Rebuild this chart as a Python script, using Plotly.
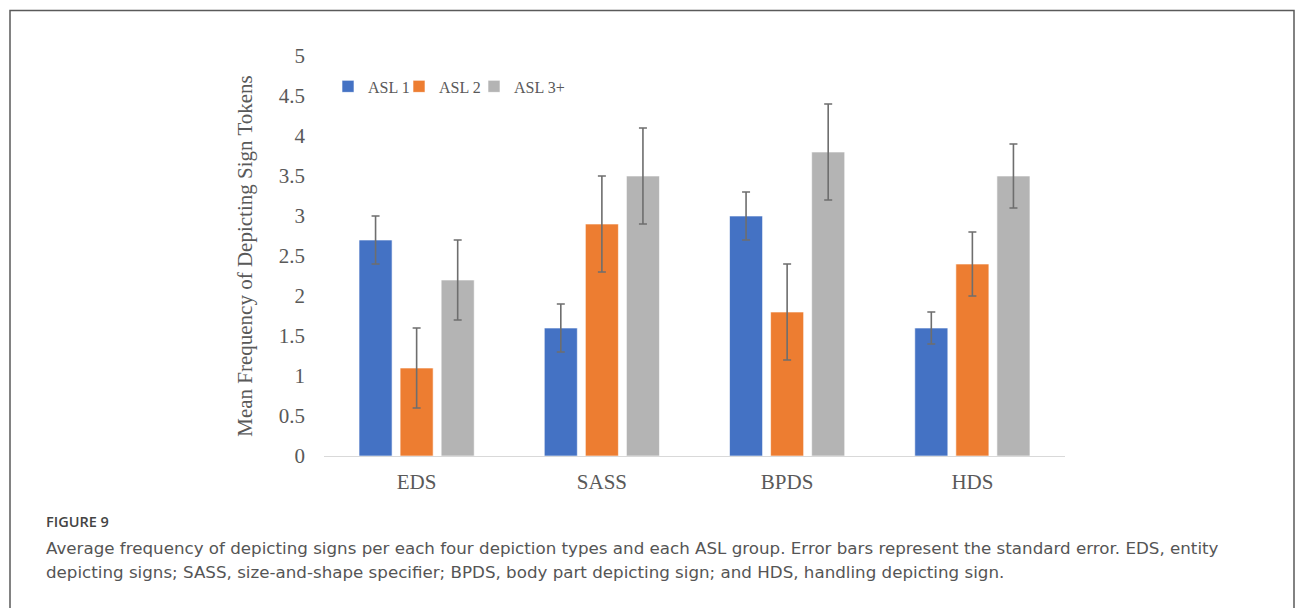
import plotly.graph_objects as go

categories = ["EDS", "SASS", "BPDS", "HDS"]
series_names = ["ASL 1", "ASL 2", "ASL 3+"]
asl1 = [2.7, 1.6, 3.0, 1.6]
asl2 = [1.1, 2.9, 1.8, 2.4]
asl3 = [2.2, 3.5, 3.8, 3.5]
asl1_err = [0.3, 0.3, 0.3, 0.2]
asl2_err = [0.5, 0.6, 0.6, 0.4]
asl3_err = [0.5, 0.6, 0.6, 0.4]
y_ticks = [0, 0.5, 1, 1.5, 2, 2.5, 3, 3.5, 4, 4.5, 5]
y_tick_labels = ["0", "0.5", "1", "1.5", "2", "2.5", "3", "3.5", "4", "4.5", "5"]

colors = ["#4472C4", "#ED7D31", "#B4B4B4"]
values = [asl1, asl2, asl3]
errors = [asl1_err, asl2_err, asl3_err]
legend_ids = ["legend", "legend2", "legend3"]

serif = "Liberation Serif"
txt = "#595959"

fig = go.Figure()
for name, vals, errs, col, lg in zip(series_names, values, errors, colors, legend_ids):
    fig.add_trace(go.Bar(
        x=categories, y=vals, name=name, legend=lg,
        marker=dict(color=col, line=dict(color="rgba(255,255,255,0.6)", width=1)),
        error_y=dict(type="data", array=errs, visible=True, color="#6E6E6E",
                     thickness=1.6, width=4),
    ))

W, H = 1295, 608
L, R, T, B = 324, 230, 55.5, 152
pw = W - L - R
ph = H - T - B

def px_x(x):
    return (x - L) / pw

def px_y(y):
    return (H - B - y) / ph

def legend_at(xpx):
    return dict(orientation="h", x=px_x(xpx), y=px_y(86), xanchor="left", yanchor="middle",
                font=dict(family=serif, size=16, color=txt), bgcolor="rgba(0,0,0,0)",
                itemclick=False, itemdoubleclick=False)

fig.update_layout(
    width=W, height=H,
    margin=dict(l=L, r=R, t=T, b=B, autoexpand=False),
    paper_bgcolor="white", plot_bgcolor="white",
    barmode="group", bargap=0.335, bargroupgap=0.195,
    font=dict(family=serif, color=txt, size=21),
    showlegend=True,
    legend=legend_at(328),
    legend2=legend_at(399),
    legend3=legend_at(474),
    xaxis=dict(showline=True, linecolor="#D9D9D9", linewidth=1.2, showgrid=False,
               ticks="", ticklabelstandoff=7, tickfont=dict(family=serif, size=21, color=txt),
               fixedrange=True),
    yaxis=dict(range=[0, 5], tickvals=y_ticks, ticktext=y_tick_labels, showgrid=False,
               zeroline=False, showline=False, ticks="", ticklabelstandoff=18,
               tickfont=dict(family=serif, size=21, color=txt),
               title=dict(text="Mean Frequency of Depicting Sign Tokens",
                          font=dict(family=serif, size=21, color=txt), standoff=20),
               fixedrange=True),
)

# outer figure border
fig.add_shape(type="rect", xref="paper", yref="paper",
              x0=px_x(10), x1=px_x(1294), y0=px_y(640), y1=px_y(10),
              line=dict(color="#5A5A5A", width=1.5), fillcolor="rgba(0,0,0,0)", layer="below")

cap_font = "DejaVu Sans"
fig.add_annotation(text="FIGURE 9", xref="paper", yref="paper", x=px_x(44), y=px_y(522),
                   xanchor="left", yanchor="middle", showarrow=False,
                   font=dict(family="Open Sans", size=14.5, color="#444444", weight=600))
fig.add_annotation(text="Average frequency of depicting signs per each four depiction types and each ASL group. Error bars represent the standard error. EDS, entity",
                   xref="paper", yref="paper", x=px_x(44), y=px_y(548),
                   xanchor="left", yanchor="middle", showarrow=False,
                   font=dict(family=cap_font, size=16.7, color="#555555"))
fig.add_annotation(text="depicting signs; SASS, size-and-shape specifier; BPDS, body part depicting sign; and HDS, handling depicting sign.",
                   xref="paper", yref="paper", x=px_x(44), y=px_y(572),
                   xanchor="left", yanchor="middle", showarrow=False,
                   font=dict(family=cap_font, size=16.7, color="#555555"))

fig.write_html("out.html", config={"displayModeBar": False},
               post_script="document.body.style.margin='0';")
